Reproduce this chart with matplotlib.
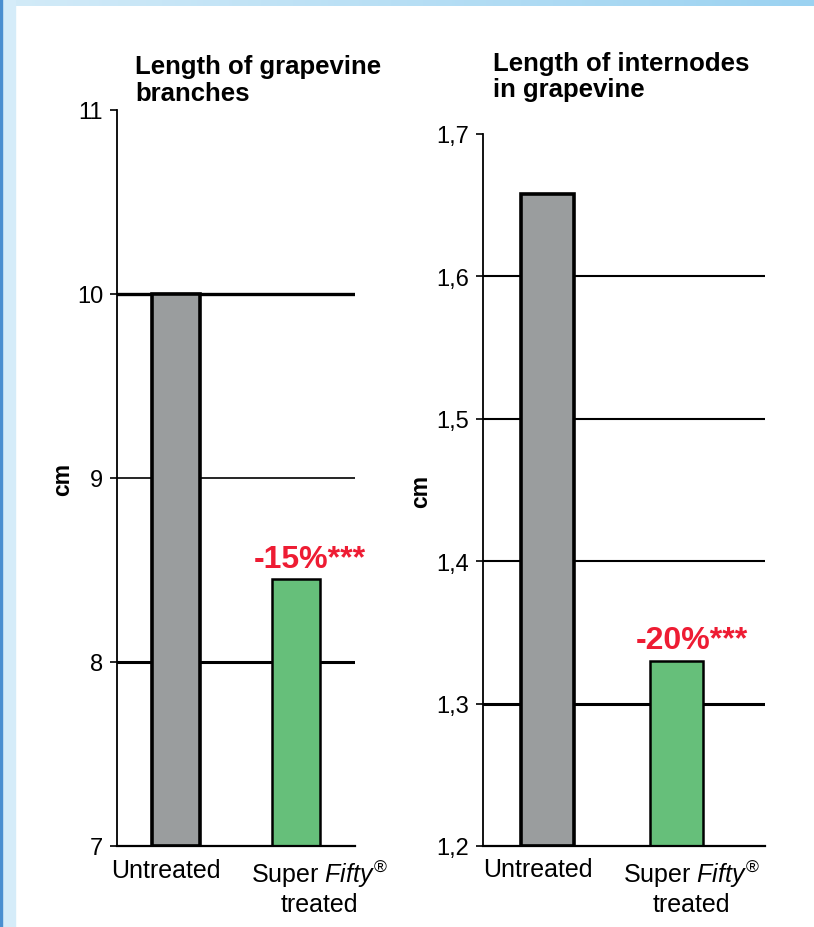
import numpy as np
import matplotlib
matplotlib.use('Agg')
from matplotlib import pyplot as plt
from matplotlib.patches import Rectangle

plt.rcParams['font.family'] = ['Liberation Sans', 'DejaVu Sans']
plt.rcParams['mathtext.fontset'] = 'custom'
plt.rcParams['mathtext.rm'] = 'Liberation Sans'
plt.rcParams['mathtext.it'] = 'Liberation Sans:italic'

# data
groups = ['Untreated', 'Super $\\mathit{Fifty}^{®}$\ntreated']
branches = [10.0, 8.45]
internodes = [1.658, 1.33]
branch_ticks = [7, 8, 9, 10, 11]
internode_ticks = [1.2, 1.3, 1.4, 1.5, 1.6, 1.7]
branch_note = '-15%***'
internode_note = '-20%***'
titles = ['Length of grapevine\nbranches', 'Length of internodes\nin grapevine']

c_gray = '#9a9d9e'
c_green = '#66bf7a'
c_red = '#ee1c33'

W, H = 814, 928
fig = plt.figure(figsize=(W / 100, H / 100), dpi=100)
fig.patch.set_facecolor('white')

# blue frame (left + top band)
fig.patches.append(Rectangle((0, 0), 15 / W, 1, transform=fig.transFigure,
                             color='#d5ecf9', zorder=0))
fig.patches.append(Rectangle((0, 0), 2 / W, 1, transform=fig.transFigure,
                             color='#4a8fd0', zorder=0))
band = fig.add_axes([0, 1 - 7 / H, 1, 7 / H])
band.imshow(np.linspace(0, 1, 256)[None, :], aspect='auto',
            cmap=matplotlib.colors.LinearSegmentedColormap.from_list('b', ['#d3ebf8', '#9bd2f1']))
band.axis('off')


def px(x0, y0, x1, y1):
    # pixel box -> figure fraction
    return [x0 / W, 1 - y1 / H, (x1 - x0) / W, (y1 - y0) / H]


def draw(ax, vals, ticks, xlim, width, note, note_x, label_x, fmt, grid_lw, cmlab_x):
    pos = np.arange(len(vals))
    for v, lw in zip(ticks[1:-1], grid_lw):
        ax.axhline(v, color='black', lw=lw, zorder=1)
    ax.bar(pos[0], vals[0] - ticks[0], bottom=ticks[0], width=width, color=c_gray,
           edgecolor='black', linewidth=2.6, zorder=2)
    ax.bar(pos[1], vals[1] - ticks[0], bottom=ticks[0], width=width, color=c_green,
           edgecolor='black', linewidth=1.8, zorder=2)
    ax.set_ylim(ticks[0], ticks[-1])
    ax.set_xlim(*xlim)
    ax.set_yticks(ticks)
    ax.set_yticklabels([fmt(t) for t in ticks])
    ax.set_xticks([])
    for s in ['top', 'right']:
        ax.spines[s].set_visible(False)
    ax.spines['left'].set_linewidth(1.3)
    ax.spines['bottom'].set_linewidth(1.6)
    ax.tick_params(axis='y', direction='out', length=5, width=1.2, labelsize=17, pad=5)
    for x, lab in zip(label_x, groups):
        ax.text(x, -0.016, lab, transform=ax.get_xaxis_transform(), ha='center', va='top',
                fontsize=18, linespacing=1.15)
    ax.annotate(note, (note_x, vals[1]), xytext=(0, 4), textcoords='offset points',
                ha='center', va='bottom', color=c_red, fontsize=23, fontweight='bold')
    ax.text(cmlab_x, 0.5, 'cm', transform=ax.transAxes, rotation=90, ha='center',
            va='center', fontsize=16.5, fontweight='bold')


ax1 = fig.add_axes(px(117, 111, 355, 847))
draw(ax1, branches, branch_ticks, (-0.49, 1.49), 0.4, branch_note, 1.115,
     [-0.08, 1.19], lambda t: f'{t:g}', [2.2, 1.2, 2.4], -0.23)
ax1.set_title(titles[0], loc='left', x=0.075, y=1.0, pad=7, fontsize=18.5,
              fontweight='bold', linespacing=1.15, ha='left')

ax2 = fig.add_axes(px(483, 135, 765, 847))
draw(ax2, internodes, internode_ticks, (-0.5, 1.69), 0.41, internode_note, 1.125,
     [-0.07, 1.12], lambda t: f'{t:.1f}'.replace('.', ','), [2.2, 1.5, 1.5, 1.5], -0.22)
ax2.set_title(titles[1], loc='left', x=0.035, y=1.0, pad=27, fontsize=18.5,
              fontweight='bold', linespacing=1.15, ha='left')

fig.savefig('out.png', dpi=100)
